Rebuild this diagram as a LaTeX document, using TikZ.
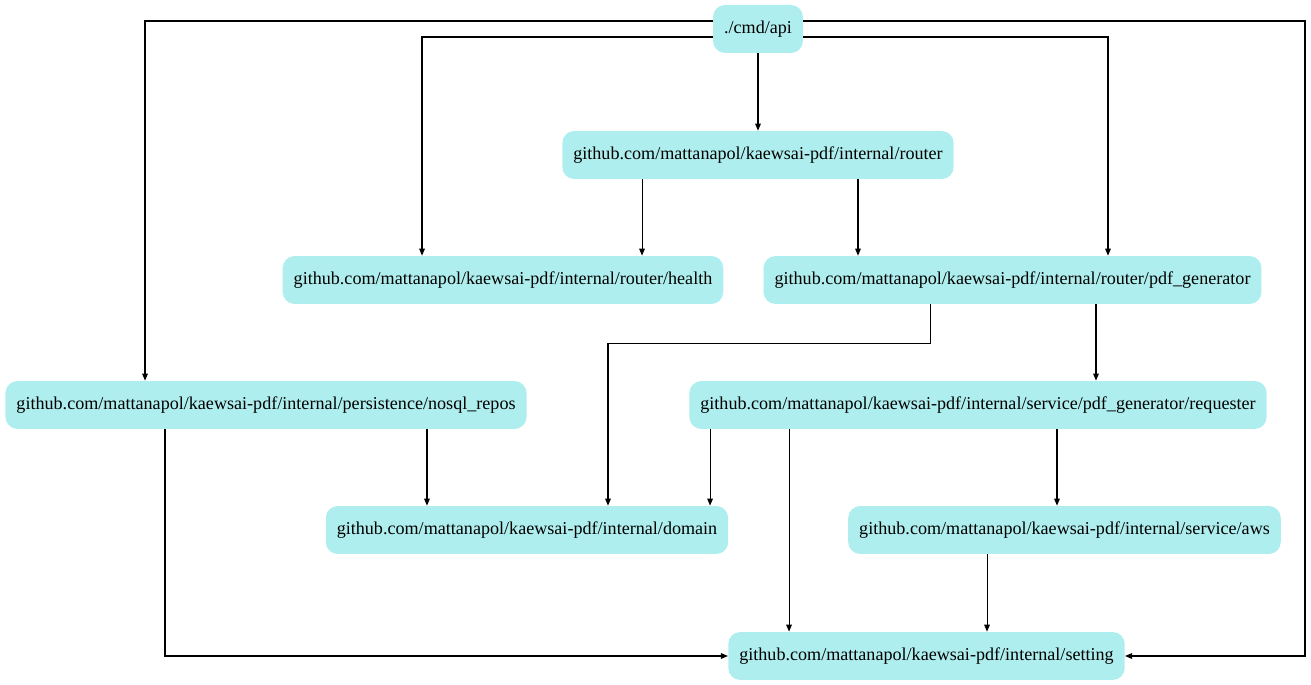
\documentclass[tikz,border=0pt]{standalone}
\usepackage{fontspec}
\setmainfont{Liberation Serif}
\usetikzlibrary{arrows.meta}
\definecolor{pkgfill}{HTML}{AFEEEE}
\tikzset{
  pkg/.style={fill=pkgfill, rounded corners=0.24cm, inner xsep=0.22cm,
    minimum height=0.96cm, font=\fontsize{10.3}{12}\selectfont},
  dep/.style={-{Triangle[length=4pt,width=3.2pt]}, line width=0.6pt}
}
\begin{document}
\begin{tikzpicture}[x=0.02cm,y=-0.02cm]
  \useasboundingbox (0,0) rectangle (1311,685);
  \node[pkg] (api) at (758,29) {./cmd/api};
  \node[pkg] (router) at (758,155) {github.com/mattanapol/kaewsai-pdf/internal/router};
  \node[pkg] (health) at (503,280) {github.com/mattanapol/kaewsai-pdf/internal/router/health};
  \node[pkg] (pdfgen) at (1012.5,280) {github.com/mattanapol/kaewsai-pdf/internal/router/pdf\_generator};
  \node[pkg] (nosql) at (266,405) {github.com/mattanapol/kaewsai-pdf/internal/persistence/nosql\_repos};
  \node[pkg] (requester) at (978,405) {github.com/mattanapol/kaewsai-pdf/internal/service/pdf\_generator/requester};
  \node[pkg] (domain) at (527,530) {github.com/mattanapol/kaewsai-pdf/internal/domain};
  \node[pkg] (aws) at (1064.5,530) {github.com/mattanapol/kaewsai-pdf/internal/service/aws};
  \node[pkg] (setting) at (926.5,656) {github.com/mattanapol/kaewsai-pdf/internal/setting};
  \coordinate (rt) at (1305,0);

  % edges out of ./cmd/api
  \draw[dep] (api.south) -- (router.north);
  \draw[dep] ([yshift=-0.16cm]api.west) -| ([xshift=-1.62cm]health.north);
  \draw[dep] ([yshift=-0.16cm]api.east) -| ([xshift=1.91cm]pdfgen.north);
  \draw[dep] ([yshift=0.16cm]api.west) -| ([xshift=-2.42cm]nosql.north);
  \draw[dep] ([yshift=0.16cm]api.east) -| (rt |- setting.east) -- (setting.east);

  % router
  \draw[dep] ([xshift=-2.32cm]router.south) -- ([xshift=-2.32cm]router.south |- health.north);
  \draw[dep] ([xshift=2cm]router.south) -- ([xshift=2cm]router.south |- pdfgen.north);

  % pdf_generator
  \draw[dep] ([xshift=-1.65cm]pdfgen.south) -- ++(0,39) -| ([xshift=1.62cm]domain.north);
  \draw[dep] ([xshift=1.67cm]pdfgen.south) -- ([xshift=1.67cm]pdfgen.south |- requester.north);

  % nosql_repos
  \draw[dep] ([xshift=3.22cm]nosql.south) -- ([xshift=3.22cm]nosql.south |- domain.north);
  \draw[dep] ([xshift=-2.02cm]nosql.south) |- (setting.west);

  % requester
  \draw[dep] ([xshift=-5.36cm]requester.south) -- ([xshift=-5.36cm]requester.south |- domain.north);
  \draw[dep] ([xshift=-3.78cm]requester.south) -- ([xshift=-3.78cm]requester.south |- setting.north);
  \draw[dep] ([xshift=1.58cm]requester.south) -- ([xshift=1.58cm]requester.south |- aws.north);

  % aws
  \draw[dep] ([xshift=-1.55cm]aws.south) -- ([xshift=-1.55cm]aws.south |- setting.north);
\end{tikzpicture}
\end{document}
